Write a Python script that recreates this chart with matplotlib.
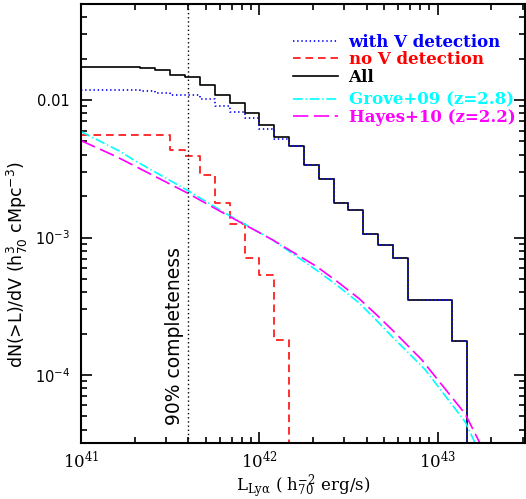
import numpy as np
import matplotlib
matplotlib.use("Agg")
import matplotlib.pyplot as plt
from matplotlib.lines import Line2D
from matplotlib.ticker import FixedLocator, LogLocator, NullFormatter

plt.rcParams['lines.scale_dashes'] = False

# cumulative LF step data (log10 L bin edges, dN(>L)/dV per bin)
all_edges = [41.0, 41.333, 41.417, 41.5, 41.583, 41.667, 41.75, 41.833, 41.917, 42.0,
             42.083, 42.167, 42.25, 42.333, 42.417, 42.5, 42.583, 42.667, 42.75,
             42.833, 43.083, 43.167]
all_vals = [0.01734, 0.01714, 0.01665, 0.01521, 0.01465, 0.01285, 0.01086, 0.00946,
            0.00807, 0.00657, 0.00540, 0.00463, 0.00335, 0.00265, 0.00178, 0.00159,
            0.00106, 0.000885, 0.000707, 0.000352, 0.000177, 0.0]

withv_edges = all_edges
withv_vals = [0.01183, 0.01166, 0.01119, 0.0109, 0.01080, 0.01025, 0.00904, 0.00815,
              0.00735, 0.00621, 0.00517, 0.00463, 0.00335, 0.00265, 0.00178, 0.00159,
              0.00106, 0.000885, 0.000707, 0.000352, 0.000177, 0.0]

nov_edges = [41.0, 41.5, 41.583, 41.667, 41.75, 41.833, 41.917, 42.0, 42.083, 42.167]
nov_vals = [0.00555, 0.00432, 0.00392, 0.00284, 0.00178, 0.00126, 0.000707, 0.000535,
            0.000179, 0.0]

# literature curves
grove_logL = [41.0, 41.218, 41.292, 41.59, 41.83, 42.073, 42.32, 42.44, 42.559, 42.65,
              42.745, 42.875, 42.931, 43.155, 43.211]
grove_n = [5.90e-3, 4.24e-3, 3.69e-3, 2.23e-3, 1.45e-3, 9.64e-4, 5.8e-4, 4.45e-4,
           3.35e-4, 2.55e-4, 1.90e-4, 1.29e-4, 1.09e-4, 4.55e-5, 3.18e-5]
hayes_logL = [41.0, 41.2, 41.59, 41.83, 42.073, 42.32, 42.44, 42.559, 42.65, 42.745,
              42.911, 43.155, 43.238]
hayes_n = [5.07e-3, 3.87e-3, 2.13e-3, 1.43e-3, 9.64e-4, 6.17e-4, 4.75e-4, 3.6e-4,
           2.8e-4, 2.13e-4, 1.29e-4, 5.2e-5, 3.18e-5]

completeness_L = 4.0e41

fig = plt.figure(figsize=(5.26, 4.99), dpi=100)
ax = fig.add_axes([81/526, 1-443/499, 444/526, 439/499])
ax.set_xscale('log')
ax.set_yscale('log', nonpositive='clip')

ax.step(10**np.array(all_edges), all_vals, where='post', color='black', lw=1.2)
ax.step(10**np.array(withv_edges), withv_vals, where='post', color='blue', lw=1.2,
        dashes=(1, 2))
ax.step(10**np.array(nov_edges), nov_vals, where='post', color='#ff2020', lw=1.3,
        dashes=(5.5, 3.5))
ax.plot(10**np.array(grove_logL), grove_n, color='cyan', lw=1.2, dashes=(7, 2, 1, 2))
ax.plot(10**np.array(hayes_logL), hayes_n, color='magenta', lw=1.2, dashes=(11, 4))

ax.axvline(completeness_L, color='black', lw=1.0, dashes=(1, 2))
ax.text(3.35e41, 1.93e-4, "90% completeness", rotation=90, ha='center', va='center',
        fontsize=13.5, family='DejaVu Sans')

ax.set_xlim(1e41, 10**43.49)
ax.set_ylim(3.2e-5, 0.05)

# ticks
ax.tick_params(which='both', direction='in', top=True, right=True, width=1.2)
ax.tick_params(which='major', length=8)
ax.tick_params(which='minor', length=4)
ax.tick_params(axis='x', which='major', pad=6)
ax.tick_params(axis='y', which='major', pad=8)
ax.xaxis.set_major_locator(FixedLocator([1e41, 1e42, 1e43]))
ax.xaxis.set_minor_locator(LogLocator(base=10, subs=np.arange(2, 10)))
ax.xaxis.set_minor_formatter(NullFormatter())
ax.yaxis.set_major_locator(FixedLocator([1e-4, 1e-3, 1e-2]))
ax.yaxis.set_minor_locator(LogLocator(base=10, subs=np.arange(2, 10)))
ax.yaxis.set_minor_formatter(NullFormatter())
ax.set_xticklabels([r'$10^{41}$', r'$10^{42}$', r'$10^{43}$'], fontsize=12,
                   family='DejaVu Serif', math_fontfamily='dejavuserif')
ax.set_yticklabels([r'$10^{-4}$', r'$10^{-3}$', '0.01'], fontsize=10.5,
                   family='DejaVu Sans')
for s in ax.spines.values():
    s.set_linewidth(1.5)

ax.set_xlabel(r'L$_{\rm Ly\alpha}$ ( h$_{70}^{-2}$ erg/s)', fontsize=12,
              family='DejaVu Serif', math_fontfamily='dejavuserif', labelpad=0)
ax.set_ylabel(r'dN(>L)/dV (h$^{3}_{70}$ cMpc$^{-3}$)', fontsize=12.5,
              family='DejaVu Sans')
ax.yaxis.set_label_coords(-0.115, 0.405)

# legend
h1 = [Line2D([], [], color='blue', lw=1.2, dashes=(1, 2)),
      Line2D([], [], color='#ff2020', lw=1.3, dashes=(5.5, 3.5)),
      Line2D([], [], color='black', lw=1.2)]
h2 = [Line2D([], [], color='cyan', lw=1.2, dashes=(7, 2, 1, 2)),
      Line2D([], [], color='magenta', lw=1.2, dashes=(11, 4))]
lkw = dict(frameon=False, handlelength=2.7, handletextpad=0.65, borderpad=0,
           borderaxespad=0, labelspacing=0.02, loc='upper left',
           prop={'family': 'DejaVu Serif', 'size': 12, 'weight': 'bold'})
leg1 = ax.legend(h1, ['with V detection', 'no V detection', 'All'],
                 labelcolor=['blue', 'red', 'black'], bbox_to_anchor=(0.477, 0.932), **lkw)
ax.add_artist(leg1)
ax.legend(h2, ['Grove+09 (z=2.8)', 'Hayes+10 (z=2.2)'],
          labelcolor=['cyan', 'magenta'], bbox_to_anchor=(0.477, 0.800), **lkw)

fig.savefig('out.png', dpi=100)
